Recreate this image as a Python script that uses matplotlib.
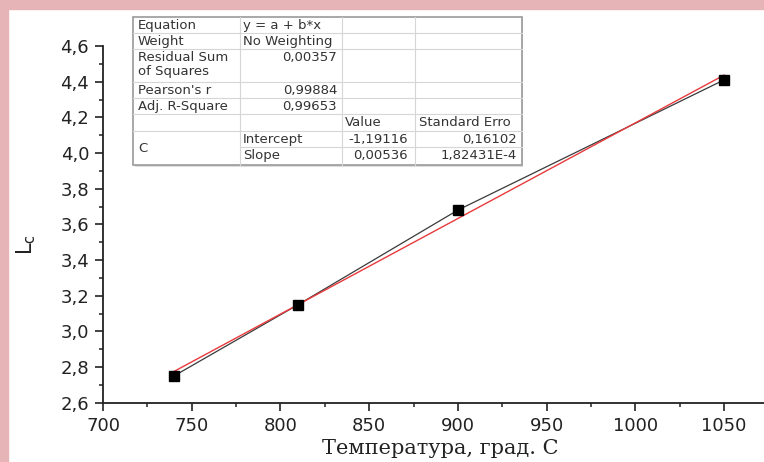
import matplotlib
matplotlib.use('Agg')
import matplotlib.pyplot as plt
from matplotlib.lines import Line2D
from matplotlib.patches import Rectangle
from matplotlib.ticker import MultipleLocator, FuncFormatter
import numpy as np

""" Data """

temp = [740, 810, 900, 1050]
lc = [2.75, 3.15, 3.68, 4.41]

fit_intercept = -1.19116
fit_slope = 0.00536

row_labels = ['Equation', 'Weight', 'Residual Sum\nof Squares', "Pearson's r",
              'Adj. R-Square', '', 'C', '']
row_col2 = ['y = a + b*x', 'No Weighting', '0,00357', '0,99884', '0,99653',
            '', 'Intercept', 'Slope']
row_col3 = ['', '', '', '', '', 'Value', '-1,19116', '0,00536']
row_col4 = ['', '', '', '', '', 'Standard Erro', '0,16102', '1,82431E-4']

x_label = 'Температура, град. С'
y_label = r'L$_\mathregular{c}$'

""" Plot """

W, H = 764, 462
fig = plt.figure(figsize=(W / 100, H / 100), dpi=100)


def px(x, y):
    return x / W, 1 - y / H


# pink frame of the screenshot
fig.patches.append(Rectangle((0, 1 - 9 / H), 1, 9 / H, transform=fig.transFigure,
                             color='#e6b4b6', zorder=0))
fig.patches.append(Rectangle((0, 0), 8 / W, 1, transform=fig.transFigure,
                             color='#e6b4b6', zorder=0))

ax = fig.add_axes([103 / W, 1 - 402.7 / H, (764 - 103) / W, (402.7 - 46) / H])
ax.patch.set_alpha(0)

xfit = np.array([temp[0], temp[-1]])
ax.plot(temp, lc, color='#3a3a3a', lw=0.9, zorder=2)
ax.plot(xfit, fit_intercept + fit_slope * xfit, color='#e8393c', lw=1.0, zorder=3)
ax.plot(temp, lc, ls='none', marker='s', ms=7.5, color='black', zorder=4)

ax.set_xlim(700, 1072.5)
ax.set_ylim(2.6, 4.6)
ax.spines['top'].set_visible(False)
ax.spines['right'].set_visible(False)
for s in ['left', 'bottom']:
    ax.spines[s].set_linewidth(1.3)
    ax.spines[s].set_color('#222222')

ax.xaxis.set_major_locator(MultipleLocator(50))
ax.xaxis.set_minor_locator(MultipleLocator(25))
ax.yaxis.set_major_locator(MultipleLocator(0.2))
ax.yaxis.set_minor_locator(MultipleLocator(0.1))
ax.yaxis.set_major_formatter(FuncFormatter(lambda v, p: f'{v:.1f}'.replace('.', ',')))
ax.tick_params(which='major', direction='out', length=6, width=1.2, color='#222222',
               labelsize=13, pad=4, labelcolor='#222222')
ax.tick_params(which='minor', direction='out', length=3, width=1.1, color='#222222')

fig.text(*px(440, 449), x_label, family='DejaVu Serif', fontsize=15,
         ha='center', va='center', color='#222222')
fig.text(*px(26, 245), y_label, family='DejaVu Sans', fontsize=15, rotation=90,
         ha='center', va='center', color='#222222')

""" Table """

row_edges = [17, 33.3, 49.3, 81.7, 97.7, 114.3, 130.7, 146.7, 165]
col_edges = [133.3, 240, 341.7, 415, 521.7]
text_left = [138, 243, 345, 419]
text_right = [None, 337, 408, 517]
tfont = dict(family='DejaVu Sans', fontsize=9.5, color='#333333', va='center')

fig.patches.append(Rectangle(px(col_edges[0] + 1.5, row_edges[-1] + 1.5),
                             (col_edges[-1] - col_edges[0]) / W,
                             (row_edges[-1] - row_edges[0]) / H,
                             transform=fig.transFigure, fc='#dddddd', ec='none', zorder=1))
fig.patches.append(Rectangle(px(col_edges[0], row_edges[-1]),
                             (col_edges[-1] - col_edges[0]) / W,
                             (row_edges[-1] - row_edges[0]) / H,
                             transform=fig.transFigure, fc='white', ec='#9a9a9a', lw=1.2,
                             zorder=2))
for i, y in enumerate(row_edges[1:-1]):
    x0 = col_edges[1] if i == 6 else col_edges[0]
    fig.add_artist(Line2D([x0 / W, col_edges[-1] / W], [1 - y / H] * 2,
                          color='#d6d6d6', lw=0.8, zorder=3))
for x in col_edges[1:-1]:
    fig.add_artist(Line2D([x / W] * 2, [1 - row_edges[0] / H, 1 - row_edges[-1] / H],
                          color='#d6d6d6', lw=0.8, zorder=3))


def is_number(s):
    return s[:1].isdigit() or s[:1] == '-'


for i in range(len(row_labels)):
    top = row_edges[i]
    cells = [row_labels[i], row_col2[i], row_col3[i], row_col4[i]]
    for j, s in enumerate(cells):
        if not s:
            continue
        if j == 0 and s == 'C':
            fig.text(*px(text_left[0], (row_edges[6] + row_edges[8]) / 2 + 1), s,
                     ha='left', zorder=4, **tfont)
            continue
        for k, line in enumerate(s.split('\n')):
            y = top + 8.5 + 13.4 * k
            if is_number(line) and j > 0:
                fig.text(*px(text_right[j], y), line, ha='right', zorder=4, **tfont)
            else:
                fig.text(*px(text_left[j], y), line, ha='left', zorder=4, **tfont)

fig.savefig('out.png', dpi=100)
